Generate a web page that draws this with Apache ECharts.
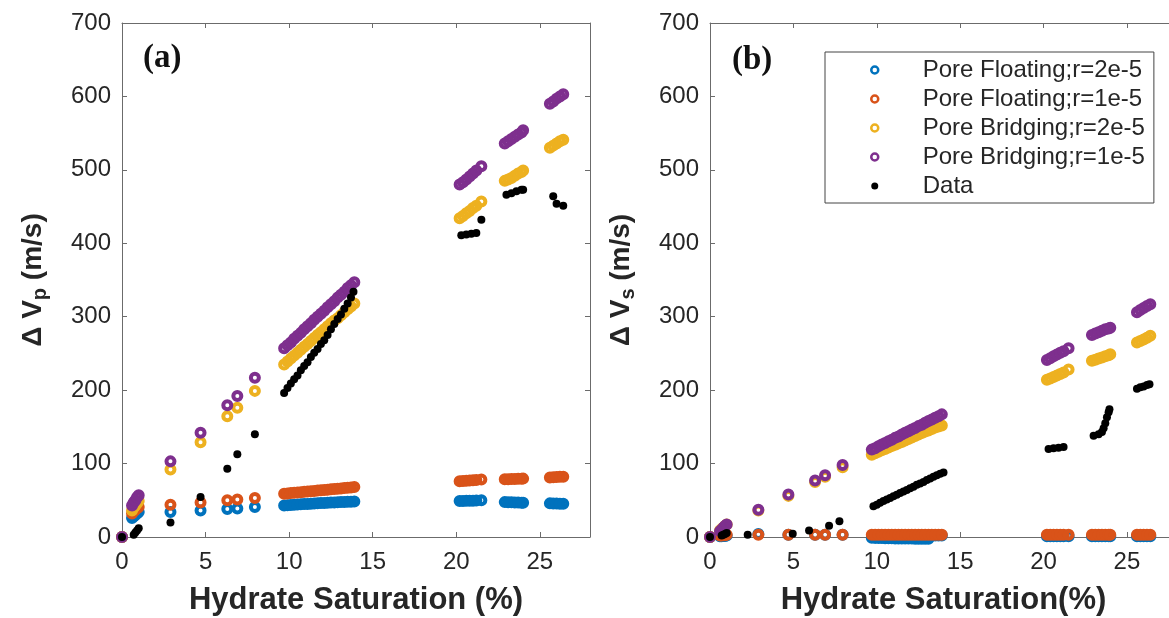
<!DOCTYPE html>
<html>
<head>
<meta charset="utf-8">
<script src="https://cdn.jsdelivr.net/npm/echarts@6/dist/echarts.min.js"></script>
<style>
  html, body { margin: 0; padding: 0; background: #fff; }
  #main { width: 1169px; height: 618px; }
</style>
</head>
<body>
<div id="main"></div>
<script>
// hydrate saturation (%) used by the model curves
var swModel = [0, 0.6, 0.7, 0.8, 0.9, 1.0, 2.9, 4.7, 6.3, 6.9, 7.95,
  9.7, 9.9, 10.1, 10.3, 10.5, 10.7, 10.9, 11.1, 11.3, 11.5, 11.7, 11.9, 12.1, 12.3, 12.5, 12.7, 12.9, 13.1, 13.3, 13.5, 13.7, 13.9,
  20.2, 20.4, 20.6, 20.8, 21.0, 21.2, 21.5,
  22.9, 23.1, 23.3, 23.5, 23.7, 23.9, 24.0,
  25.6, 25.8, 26.0, 26.2, 26.4];

// (a) delta Vp, m/s
var vpFloat2 = [0, 26, 28, 30, 32, 34, 34, 36, 38, 38.7, 41,
  43, 43.3, 43.6, 43.9, 44.2, 44.5, 44.8, 45, 45.3, 45.6, 45.9, 46.2, 46.4, 46.6, 46.9, 47.1, 47.3, 47.5, 47.7, 47.9, 48.1, 48.3,
  49, 49, 49.3, 49.3, 49.5, 49.6, 50,
  47.5, 47.3, 47.2, 47, 46.9, 46.8, 46.7,
  45.8, 45.6, 45.5, 45.4, 45.3];
var vpFloat1 = [0, 32, 35, 37, 39, 41, 44, 47, 50, 51, 53,
  59, 59.4, 59.9, 60.3, 60.7, 61.1, 61.6, 62, 62.4, 62.8, 63.3, 63.7, 64.1, 64.5, 64.9, 65.3, 65.8, 66.2, 66.6, 67, 67.5, 68,
  76, 76.3, 76.6, 77, 77.3, 77.7, 78.4,
  78.5, 78.7, 78.9, 79, 79.2, 79.4, 79.5,
  81, 81.3, 81.6, 81.9, 82];
var vpBridge2 = [0, 36, 40, 43, 46, 49, 92, 129, 164.5, 176, 199,
  235, 239, 243, 247, 251, 255, 259, 263, 267, 271, 275, 279, 283, 287, 291, 295, 298, 302, 306, 310, 314, 318,
  434, 437, 441, 444, 448, 451, 457,
  485, 487, 489, 492, 495, 497, 499,
  530, 533, 536, 539, 541];
var vpBridge1 = [0, 43, 47, 50, 54, 57, 103, 142, 179.5, 192, 217,
  257, 261, 265, 270, 274, 278, 283, 287, 291, 296, 300, 304, 308, 313, 317, 321, 326, 330, 334, 339, 343, 347,
  480, 483, 487, 491, 495, 499, 505,
  536, 539, 542, 545, 548, 551, 554,
  590, 593, 597, 600, 603];
var swDataA = [0, 0.7, 0.8, 0.9, 1.0, 2.9, 4.7, 6.3, 6.9, 7.95,
  9.7, 9.9, 10.1, 10.3, 10.5, 10.7, 10.9, 11.1, 11.3, 11.5, 11.7, 11.9, 12.1, 12.3, 12.5, 12.7, 12.9, 13.1, 13.3, 13.5, 13.7, 13.85,
  20.3, 20.6, 20.9, 21.2, 21.5,
  23.0, 23.3, 23.6, 23.9, 24.0,
  25.8, 26.0, 26.4];
var vpData = [0, 3, 6, 9, 12, 19.6, 54.5, 93, 112.7, 140,
  196, 203, 209, 215, 220, 227, 233, 238, 245, 251, 256, 263, 268, 275, 283, 290, 297, 303, 311, 318, 326, 334,
  411, 412, 413, 414, 432,
  466, 468, 471, 473, 473,
  464, 454, 451];

// (b) delta Vs, m/s
var vsFloat2 = [0, 1, 1, 1.5, 1.5, 2, 4, 3, 3, 3, 3,
  -1, -1.2, -1.4, -1.5, -1.6, -1.7, -1.8, -1.9, -2, -2, -2.1, -2.2, -2.2, -2.3, -2.4, -2.4, -2.5, -2.5, 2, 2, 2, 2,
  1, 1, 1, 1, 1, 1, 1,
  1, 1, 1, 1, 1, 1, 1,
  1, 1, 1, 1, 1];
var vsFloat1 = [0, 2, 2, 2.5, 2.5, 3, 3, 3, 3, 3, 3,
  3, 3, 3, 3, 3, 3, 3, 3, 3, 3, 3, 3, 3, 3, 3, 3, 3, 3, 3, 3, 3, 3,
  3, 3, 3, 3, 3, 3, 3,
  3, 3, 3, 3, 3, 3, 3,
  3, 3, 3, 3, 3];
var vsBridge2 = [0, 9, 11, 13, 15, 17, 36, 56, 75, 82, 95,
  112, 114, 116, 118, 120, 122, 124, 125.5, 127.5, 129.5, 131.5, 133.5, 135.5, 137.5, 139.5, 141.5, 143.5, 145, 147, 149, 150.5, 152,
  214, 216, 218, 220, 222, 224, 228,
  240, 241.5, 243, 244.5, 246, 247.5, 249,
  265, 267, 269, 271.5, 274];
var vsBridge1 = [0, 8, 10, 12.5, 15, 17, 37, 58, 77, 84, 98,
  119, 121, 123.5, 126, 128, 130.5, 132.5, 135, 137, 139.5, 142, 144, 146.5, 148.5, 151, 153, 155.5, 158, 160, 162.5, 164.5, 167,
  241, 243.5, 246, 248.5, 251, 253, 257,
  275, 277, 279, 281, 283, 284, 285,
  306, 309, 312, 314.5, 317];
var swDataB = [0, 0.7, 0.8, 0.9, 1.0, 2.26, 4.96, 5.94, 7.14, 7.76,
  9.8, 10.0, 10.2, 10.4, 10.6, 10.8, 11.0, 11.2, 11.4, 11.6, 11.8, 12.0, 12.2, 12.4, 12.6, 12.8, 13.0, 13.2, 13.4, 13.6, 13.8, 14.0,
  20.3, 20.6, 20.9, 21.2,
  23.0, 23.3, 23.5, 23.6, 23.7, 23.8, 23.9, 23.95,
  25.6, 25.8, 26.0, 26.2, 26.35];
var vsData = [0, 2, 3, 4, 5.5, 3, 4.5, 9, 15.4, 21.3,
  42, 44, 46.5, 49, 51, 53, 55.5, 57.5, 60, 62, 64, 66.5, 68.5, 71, 73, 75, 77.5, 79.5, 82, 84, 86, 88,
  120, 121, 121.5, 122.5,
  138, 140, 143, 148, 155, 163, 170, 174,
  202, 204, 205, 207, 208];

var seriesNames = ['Pore Floating;r=2e-5', 'Pore Floating;r=1e-5', 'Pore Bridging;r=2e-5', 'Pore Bridging;r=1e-5', 'Data'];
var colors = ['#0072BD', '#D95319', '#EDB120', '#7E2F8E', '#000000'];

var font = 'Liberation Sans, Arial, Helvetica, sans-serif';
var axisGrey = '#6b6b6b';
var textCol = '#262626';

function pairs(xs, ys) {
  return xs.map(function (x, i) { return [x, ys[i]]; });
}

function ring(name, idx, xs, ys, panel) {
  return {
    name: name,
    type: 'scatter',
    xAxisIndex: panel * 2,
    yAxisIndex: panel * 2,
    symbol: 'circle',
    symbolSize: 8,
    clip: false,
    itemStyle: { color: 'rgba(0,0,0,0)', borderColor: colors[idx], borderWidth: 4, opacity: 1 },
    data: pairs(xs, ys)
  };
}

function dots(xs, ys, panel) {
  return {
    name: 'Data',
    type: 'scatter',
    xAxisIndex: panel * 2,
    yAxisIndex: panel * 2,
    symbol: 'circle',
    symbolSize: 8,
    itemStyle: { color: '#000', opacity: 1 },
    data: pairs(xs, ys)
  };
}

var lineStyle = { show: true, onZero: false, lineStyle: { color: axisGrey, width: 1 } };
var tickStyle = { show: true, inside: true, length: 5, lineStyle: { color: axisGrey } };

function xAxes(gi, title) {
  return [{
    type: 'value', gridIndex: gi, position: 'bottom', min: 0, max: 28, interval: 5,
    name: title, nameLocation: 'middle', nameGap: 48,
    nameTextStyle: { fontFamily: font, fontSize: 31, fontWeight: 'bold', color: textCol },
    axisLine: lineStyle,
    axisTick: tickStyle,
    axisLabel: { show: true, margin: 13, fontFamily: font, fontSize: 24, color: textCol, showMaxLabel: false },
    splitLine: { show: false }
  }, {
    type: 'value', gridIndex: gi, position: 'top', min: 0, max: 28, interval: 5,
    axisLine: lineStyle,
    axisTick: tickStyle,
    axisLabel: { show: false },
    splitLine: { show: false }
  }];
}

function yAxes(gi, sub) {
  return [{
    type: 'value', gridIndex: gi, position: 'left', min: 0, max: 700, interval: 100,
    name: '{d|Δ V}{s|' + sub + '}{d| (m/s)}', nameLocation: 'middle', nameGap: 72, nameRotate: 90,
    nameTextStyle: {
      rich: {
        d: { fontFamily: font, fontSize: 28, fontWeight: 'bold', color: textCol },
        s: { fontFamily: font, fontSize: 20, fontWeight: 'bold', color: textCol, padding: [13, 0, 0, 0] }
      }
    },
    axisLine: lineStyle,
    axisTick: tickStyle,
    axisLabel: { show: true, margin: 11, fontFamily: font, fontSize: 24, color: textCol },
    splitLine: { show: false }
  }, {
    type: 'value', gridIndex: gi, position: 'right', min: 0, max: 700, interval: 100,
    axisLine: lineStyle,
    axisTick: tickStyle,
    axisLabel: { show: false },
    splitLine: { show: false }
  }];
}

var legendData = seriesNames.map(function (n, i) {
  if (i === 4) {
    return { name: n, icon: 'circle', itemStyle: { color: '#000', borderWidth: 0 } };
  }
  return { name: n, icon: 'circle', itemStyle: { color: '#fff', borderColor: colors[i], borderWidth: 2.5 } };
});

var option = {
  animation: false,
  backgroundColor: '#fff',
  title: [
    { text: '(a)', left: 138, top: 37, textStyle: { fontFamily: 'Liberation Serif, Times New Roman, serif', fontSize: 33, fontWeight: 'bold', color: '#111' } },
    { text: '(b)', left: 727, top: 39, textStyle: { fontFamily: 'Liberation Serif, Times New Roman, serif', fontSize: 33, fontWeight: 'bold', color: '#111' } }
  ],
  legend: {
    left: 825, top: 52,
    orient: 'vertical',
    data: legendData,
    itemWidth: 86, itemHeight: 7, itemGap: 5,
    padding: [6, 9, 5, 45],
    borderColor: '#444', borderWidth: 1,
    backgroundColor: '#fff',
    textStyle: { fontFamily: font, fontSize: 24, color: textCol, lineHeight: 24 }
  },
  grid: [
    { left: 122, top: 23, width: 468, height: 514, outerBoundsMode: 'none' },
    { left: 710, top: 23, width: 467, height: 514, outerBoundsMode: 'none' }
  ],
  xAxis: xAxes(0, 'Hydrate Saturation (%)').concat(xAxes(1, 'Hydrate Saturation(%)')),
  yAxis: yAxes(0, 'p').concat(yAxes(1, 's')),
  series: [
    ring(seriesNames[0], 0, swModel, vpFloat2, 0),
    ring(seriesNames[1], 1, swModel, vpFloat1, 0),
    ring(seriesNames[2], 2, swModel, vpBridge2, 0),
    ring(seriesNames[3], 3, swModel, vpBridge1, 0),
    dots(swDataA, vpData, 0),
    ring(seriesNames[0], 0, swModel, vsFloat2, 1),
    ring(seriesNames[1], 1, swModel, vsFloat1, 1),
    ring(seriesNames[2], 2, swModel, vsBridge2, 1),
    ring(seriesNames[3], 3, swModel, vsBridge1, 1),
    dots(swDataB, vsData, 1)
  ]
};

var chart = echarts.init(document.getElementById('main'));
chart.setOption(option);
</script>
</body>
</html>
